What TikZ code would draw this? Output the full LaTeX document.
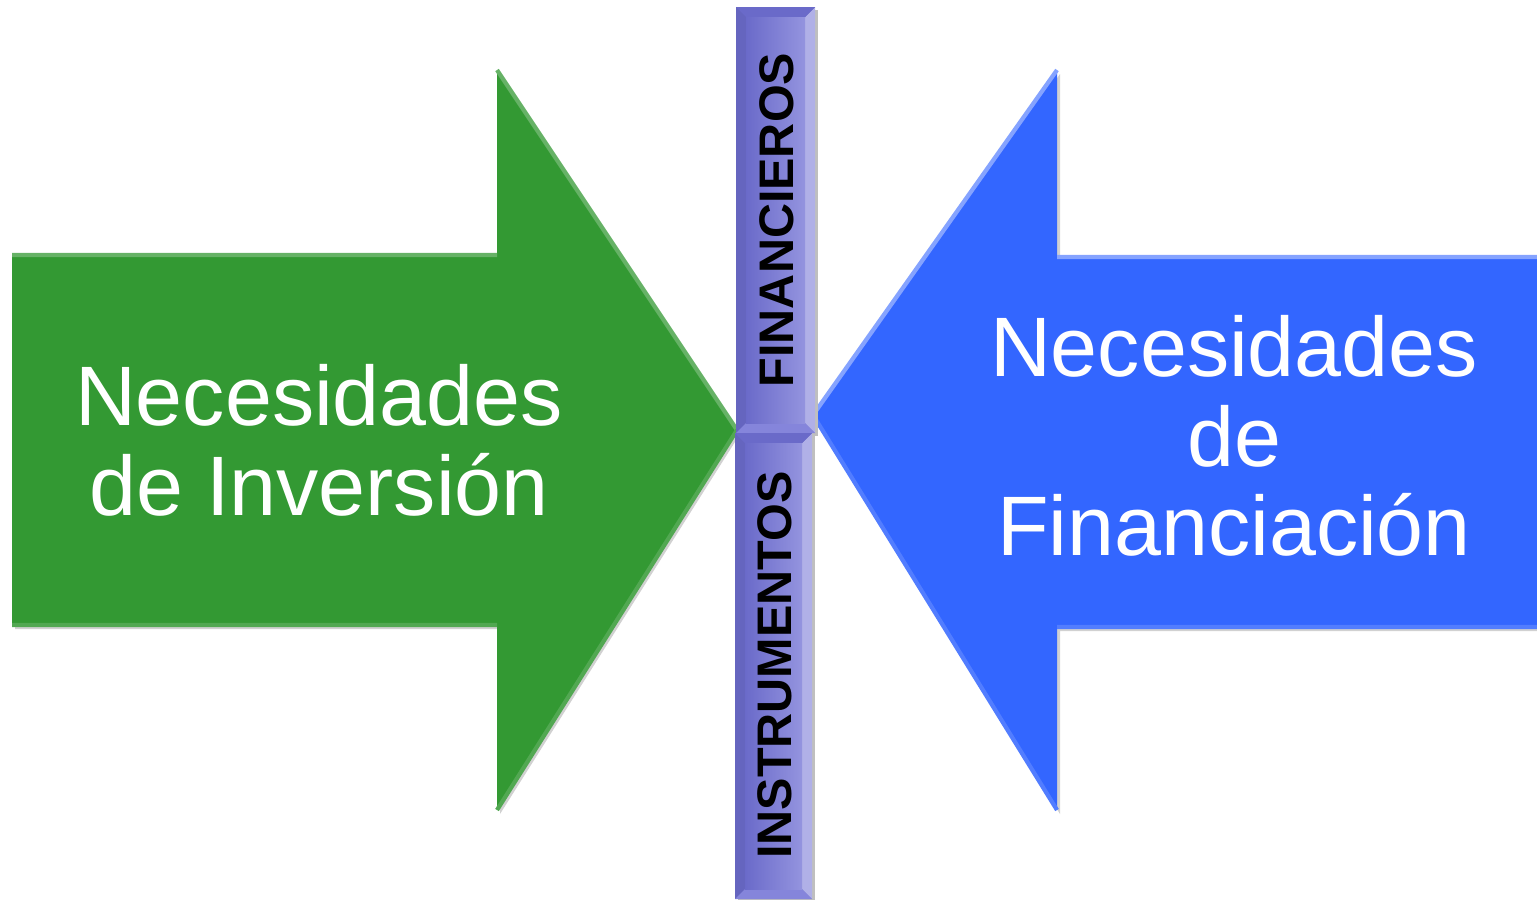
\documentclass[tikz,border=0pt]{standalone}
\usepackage{fontspec}
\setmainfont{Liberation Sans}
\usepackage{tikz}
\usetikzlibrary{calc}

\definecolor{invgreen}{HTML}{339933}
\definecolor{finblue}{HTML}{3366FF}
\definecolor{barface}{HTML}{7070D4}

\begin{document}
\begin{tikzpicture}[
		x=0.01cm, y=-0.01cm,
		bigtext/.style={text=white, align=center, font=\fontsize{24pt}{25.5pt}\selectfont},
		bartext/.style={rotate=90, font=\bfseries\fontsize{13.8pt}{14pt}\selectfont},
		edge/.style={line width=1.2pt, line join=miter}]
		\useasboundingbox (0,0) rectangle (1537,899);

		% green arrow
		\coordinate (g1) at (12,255);
		\coordinate (g2) at (497,255);
		\coordinate (g3) at (497,70);
		\coordinate (gtip) at (737,430);
		\coordinate (g5) at (497,810);
		\coordinate (g6) at (497,625);
		\coordinate (g7) at (12,625);
		\fill[black!18] ($(g1)+(3,4)$) -- ($(g2)+(3,4)$) -- ($(g3)+(3,4)$) -- ($(gtip)+(3,4)$) -- ($(g5)+(3,4)$) -- ($(g6)+(3,4)$) -- ($(g7)+(3,4)$) -- cycle;
		\fill[invgreen] (g1) -- (g2) -- (g3) -- (gtip) -- (g5) -- (g6) -- (g7) -- cycle;
		\draw[edge, invgreen!75!white] (g1) -- (g2) (g3) -- (gtip);
		\draw[edge, invgreen!85!white] (g7) -- (g6) (g5) -- (gtip);

		% blue arrow
		\coordinate (b1) at (1537,257);
		\coordinate (b2) at (1057,257);
		\coordinate (b3) at (1057,70);
		\coordinate (btip) at (813,415);
		\coordinate (b5) at (1057,810);
		\coordinate (b6) at (1057,627);
		\coordinate (b7) at (1537,627);
		\fill[black!18] ($(b1)+(3,4)$) -- ($(b2)+(3,4)$) -- ($(b3)+(3,4)$) -- ($(btip)+(3,4)$) -- ($(b5)+(3,4)$) -- ($(b6)+(3,4)$) -- ($(b7)+(3,4)$) -- cycle;
		\fill[finblue] (b1) -- (b2) -- (b3) -- (btip) -- (b5) -- (b6) -- (b7) -- cycle;
		\draw[edge, finblue!60!white] (b1) -- (b2) (b3) -- (btip);
		\draw[edge, finblue!85!white] (b7) -- (b6) (b5) -- (btip);

		% bevelled bars
		\foreach \name/\xa/\ya/\xb/\yb in {top/736/7/815/433, bot/735/433/812/899}{
			\fill[black!25] (\xa+3,\ya+3) rectangle (\xb+3,\yb+3);
			\fill[barface!90!black] (\xa,\ya) rectangle (\xb,\yb);
			\fill[barface!55!white] (\xb,\ya) -- (\xb,\yb) -- (\xb-10,\yb-10) -- (\xb-10,\ya+10) -- cycle;
			\fill[barface!95!black] (\xa,\ya) -- (\xb,\ya) -- (\xb-10,\ya+10) -- (\xa+10,\ya+10) -- cycle;
			\fill[barface!85!white] (\xa,\yb) -- (\xb,\yb) -- (\xb-10,\yb-10) -- (\xa+10,\yb-10) -- cycle;
			\shade[left color=barface!95!black, right color=barface!75!white] (\xa+10,\ya+10) rectangle (\xb-10,\yb-10);
			\coordinate (\name) at ({(\xa+\xb)/2},{(\ya+\yb)/2});
		}

		% labels
		\node[bigtext] (inversion) at (319,440) {Necesidades\\de Inversión};
		\node[bigtext] (financiacion) at (1234,436) {Necesidades\\de\\Financiación};
		\node[bartext] (financieros) at (777,220) {FINANCIEROS};
		\node[bartext] (instrumentos) at (775,665) {INSTRUMENTOS};
\end{tikzpicture}
\end{document}
